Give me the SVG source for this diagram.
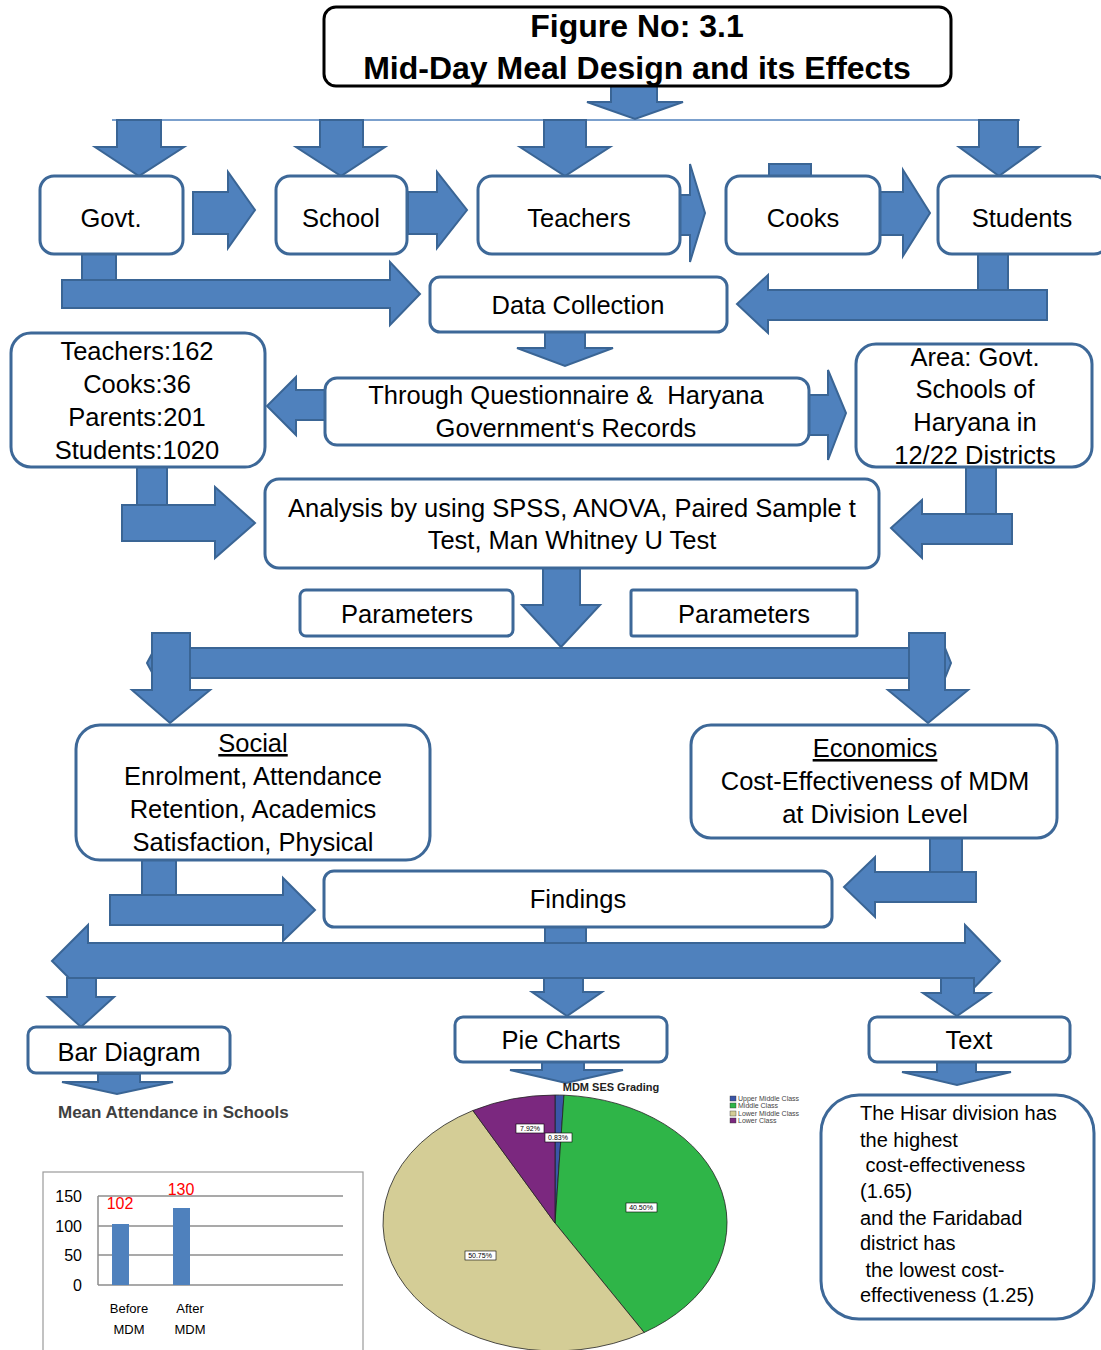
<svg xmlns="http://www.w3.org/2000/svg" width="1101" height="1350" viewBox="0 0 1101 1350">
<style>
.box{fill:#fff;stroke:#3d6898;stroke-width:3}
.arr{fill:#4f81bd;stroke:#3a6595;stroke-width:2;stroke-linejoin:miter}
.t{font-family:"Liberation Sans",Arial,sans-serif;font-size:25.5px;fill:#000;text-anchor:middle}
.tl{font-family:"Liberation Sans",Arial,sans-serif;font-size:20px;fill:#000}
.title{font-family:"Liberation Sans",Arial,sans-serif;font-size:32px;font-weight:bold;fill:#000;text-anchor:middle}
.ax{font-family:"Liberation Sans",Arial,sans-serif;font-size:16px;fill:#000;text-anchor:end}
.xl{font-family:"Liberation Sans",Arial,sans-serif;font-size:13px;fill:#000;text-anchor:middle}
.red{font-family:"Liberation Sans",Arial,sans-serif;font-size:16px;fill:#ff0000;text-anchor:middle}
.pl{font-family:"Liberation Sans",Arial,sans-serif;font-size:7px;fill:#000;text-anchor:middle}
.lg{font-family:"Liberation Sans",Arial,sans-serif;font-size:7px;fill:#444}
.lbl{fill:#fff;stroke:#000;stroke-width:0.6}
.grid{stroke:#8c8c8c;stroke-width:1.5}
</style>

<g id="connectors">
  <line x1="112" y1="120" x2="1020" y2="120" stroke="#4f81bd" stroke-width="1.5"/>
  <!-- title down arrow -->
  <polygon class="arr" points="611,86 657,86 657,102 683,102 635,119 587,102 611,102"/>
  <!-- down arrows to row 1 -->
  <polygon class="arr" points="117,120 161,120 161,147 184,147 139,176 95,147 117,147"/>
  <polygon class="arr" points="320,120 363,120 363,147 385,147 341,176 296,147 320,147"/>
  <polygon class="arr" points="544,120 586,120 586,147 610,147 565,176 520,147 544,147"/>
  <polygon class="arr" points="979,120 1018,120 1018,147 1039,147 999,176 959,147 979,147"/>
  <!-- right arrows between row 1 boxes -->
  <polygon class="arr" points="193,192 228,192 228,172 255,210 228,248 228,234 193,234"/>
  <polygon class="arr" points="408,192 437,192 437,172 467,210 437,248 437,234 408,234"/>
  <polygon class="arr" points="680,195 690,195 690,164 705,213 690,262 690,235 680,235"/>
  <polygon class="arr" points="880,192 903,192 903,170 930,213 903,256 903,235 880,235"/>
  <rect class="arr" x="769" y="164" width="42" height="12"/>
  <!-- Govt to Data Collection -->
  <rect class="arr" x="82" y="254" width="34" height="28"/>
  <polygon class="arr" points="62,280 390,280 390,262 420,294 390,325 390,308 62,308"/>
  <!-- Students to Data Collection -->
  <rect class="arr" x="978" y="254" width="30" height="37"/>
  <polygon class="arr" points="1047,290 768,290 768,275 737,304 768,333 768,320 1047,320"/>
  <!-- Data Collection down -->
  <polygon class="arr" points="545,332 585,332 585,348 613,348 565,366 517,348 545,348"/>
  <!-- Questionnaire left / right -->
  <polygon class="arr" points="325,390 296,390 296,377 267,406 296,435 296,420 325,420"/>
  <polygon class="arr" points="808,395 828,395 828,370 846,413 828,460 828,435 808,435"/>
  <!-- Left box to Analysis -->
  <rect class="arr" x="137" y="467" width="30" height="40"/>
  <polygon class="arr" points="122,505 215,505 215,487 255,523 215,558 215,541 122,541"/>
  <!-- Right box to Analysis -->
  <rect class="arr" x="966" y="467" width="30" height="48"/>
  <polygon class="arr" points="1012,514 922,514 922,500 891,528 922,558 922,544 1012,544"/>
  <!-- Analysis down -->
  <polygon class="arr" points="543,568 580,568 580,605 600,605 561,647 522,605 543,605"/>
  <!-- horizontal distribution bar -->
  <polygon class="arr" points="147,663 155,648 945,648 951,663 945,678 155,678"/>
  <polygon class="arr" points="152,633 190,633 190,690 210,690 170,723 132,690 152,690"/>
  <polygon class="arr" points="909,633 945,633 945,690 968,690 928,723 888,690 909,690"/>
  <!-- Social to Findings -->
  <rect class="arr" x="142" y="860" width="34" height="37"/>
  <polygon class="arr" points="110,895 283,895 283,878 315,910 283,941 283,925 110,925"/>
  <!-- Economics to Findings -->
  <rect class="arr" x="930" y="838" width="32" height="36"/>
  <polygon class="arr" points="976,872 875,872 875,857 844,887 875,917 875,902 976,902"/>
  <!-- Findings connector -->
  <rect class="arr" x="545" y="927" width="41" height="18"/>
  <!-- double arrow -->
  <polygon class="arr" points="52,961 88,925 88,943 965,943 965,925 1000,961 965,997 965,978 88,978 88,997"/>
  <!-- down arrows to bottom boxes -->
  <polygon class="arr" points="67,978 96,978 96,997 114,997 81,1027 48,997 67,997"/>
  <polygon class="arr" points="544,978 583,978 583,992 602,992 567,1016 532,992 544,992"/>
  <polygon class="arr" points="941,978 974,978 974,993 990,993 957,1016 923,993 941,993"/>
  <!-- arrows below bottom boxes -->
  <polygon class="arr" points="98,1074 140,1074 140,1082 173,1082 117,1094 62,1082 98,1082"/>
  <polygon class="arr" points="542,1062 584,1062 584,1070 623,1070 566,1083 510,1070 542,1070"/>
  <polygon class="arr" points="937,1062 976,1062 976,1072 1011,1072 957,1085 902,1072 937,1072"/>
</g>

<g id="title">
  <rect x="324" y="7" width="627" height="79" rx="12" fill="#fff" stroke="#000" stroke-width="3"/>
  <text class="title" x="637" y="37">Figure No: 3.1</text>
  <text class="title" x="637" y="79">Mid-Day Meal Design and its Effects</text>
</g>

<g id="govt"><rect class="box" x="40" y="176" width="143" height="78" rx="14"/><text class="t" x="111" y="227">Govt.</text></g>
<g id="school"><rect class="box" x="276" y="176" width="131" height="78" rx="14"/><text class="t" x="341" y="227">School</text></g>
<g id="teachers"><rect class="box" x="478" y="176" width="202" height="78" rx="14"/><text class="t" x="579" y="227">Teachers</text></g>
<g id="cooks"><rect class="box" x="726" y="176" width="154" height="78" rx="14"/><text class="t" x="803" y="227">Cooks</text></g>
<g id="students"><rect class="box" x="938" y="176" width="170" height="78" rx="14"/><text class="t" x="1022" y="227">Students</text></g>

<g id="data-collection"><rect class="box" x="430" y="277" width="297" height="55" rx="10"/><text class="t" x="578" y="314">Data Collection</text></g>

<g id="sample"><rect class="box" x="11" y="333" width="254" height="134" rx="20"/>
  <text class="t" x="137" y="360">Teachers:162</text>
  <text class="t" x="137" y="393">Cooks:36</text>
  <text class="t" x="137" y="426">Parents:201</text>
  <text class="t" x="137" y="459">Students:1020</text>
</g>
<g id="questionnaire"><rect class="box" x="325" y="378" width="484" height="67" rx="12"/>
  <text class="t" x="566" y="404" xml:space="preserve">Through Questionnaire &amp;  Haryana</text>
  <text class="t" x="566" y="437">Government‘s Records</text>
</g>
<g id="area"><rect class="box" x="856" y="344" width="236" height="123" rx="20"/>
  <text class="t" x="975" y="366">Area: Govt.</text>
  <text class="t" x="975" y="398">Schools of</text>
  <text class="t" x="975" y="431">Haryana in</text>
  <text class="t" x="975" y="464">12/22 Districts</text>
</g>

<g id="analysis"><rect class="box" x="265" y="479" width="614" height="89" rx="14"/>
  <text class="t" x="572" y="517">Analysis by using SPSS, ANOVA, Paired Sample t</text>
  <text class="t" x="572" y="549">Test, Man Whitney U Test</text>
</g>

<g id="parameters-1"><rect class="box" x="300" y="590" width="213" height="46" rx="6"/><text class="t" x="407" y="623">Parameters</text></g>
<g id="parameters-2"><rect class="box" x="631" y="590" width="226" height="46" rx="2"/><text class="t" x="744" y="623">Parameters</text></g>

<g id="social"><rect class="box" x="76" y="725" width="354" height="135" rx="24"/>
  <text class="t" x="253" y="752" text-decoration="underline">Social</text>
  <text class="t" x="253" y="785">Enrolment, Attendance</text>
  <text class="t" x="253" y="818">Retention, Academics</text>
  <text class="t" x="253" y="851">Satisfaction, Physical</text>
</g>
<g id="economics"><rect class="box" x="691" y="725" width="366" height="113" rx="20"/>
  <text class="t" x="875" y="757" text-decoration="underline">Economics</text>
  <text class="t" x="875" y="790">Cost-Effectiveness of MDM</text>
  <text class="t" x="875" y="823">at Division Level</text>
</g>

<g id="findings"><rect class="box" x="324" y="871" width="508" height="56" rx="10"/><text class="t" x="578" y="908">Findings</text></g>

<g id="bar-diagram"><rect class="box" x="28" y="1027" width="202" height="46" rx="8"/><text class="t" x="129" y="1061">Bar Diagram</text></g>
<g id="pie-charts"><rect class="box" x="455" y="1017" width="212" height="45" rx="8"/><text class="t" x="561" y="1049">Pie Charts</text></g>
<g id="text-node"><rect class="box" x="869" y="1017" width="201" height="45" rx="8"/><text class="t" x="969" y="1049">Text</text></g>

<g id="bar-chart">
  <text x="58" y="1118" font-family="Liberation Sans, Arial, sans-serif" font-size="17" font-weight="bold" fill="#404040">Mean Attendance in Schools</text>
  <rect x="43" y="1172" width="320" height="190" fill="#fff" stroke="#9a9a9a" stroke-width="1.2"/>
  <line class="grid" x1="98" y1="1196" x2="343" y2="1196"/>
  <line class="grid" x1="98" y1="1226" x2="343" y2="1226"/>
  <line class="grid" x1="98" y1="1255" x2="343" y2="1255"/>
  <line class="grid" x1="98" y1="1285" x2="343" y2="1285"/>
  <line class="grid" x1="98" y1="1196" x2="98" y2="1285"/>
  <rect x="112" y="1224" width="17" height="61" fill="#4f81bd"/>
  <rect x="173" y="1208" width="17" height="77" fill="#4f81bd"/>
  <text class="ax" x="82" y="1202">150</text>
  <text class="ax" x="82" y="1232">100</text>
  <text class="ax" x="82" y="1261">50</text>
  <text class="ax" x="82" y="1291">0</text>
  <text class="red" x="120" y="1209">102</text>
  <text class="red" x="181" y="1195">130</text>
  <text class="xl" x="129" y="1313">Before</text>
  <text class="xl" x="129" y="1334">MDM</text>
  <text class="xl" x="190" y="1313">After</text>
  <text class="xl" x="190" y="1334">MDM</text>
</g>

<g id="pie-chart">
  <text x="611" y="1091" font-family="Liberation Sans, Arial, sans-serif" font-size="11" font-weight="bold" fill="#222" text-anchor="middle">MDM SES Grading</text>
  <path d="M555,1223 L555,1095 A172,128 0 0 1 563.97,1095.17 Z" fill="#3b55a8" stroke="#222" stroke-width="0.8"/>
  <path d="M555,1223 L563.97,1095.17 A172,128 0 0 1 644.13,1332.48 Z" fill="#2fb548" stroke="#222" stroke-width="0.8"/>
  <path d="M555,1223 L644.13,1332.48 A172,128 0 1 1 472.9,1110.53 Z" fill="#d4cd96" stroke="#222" stroke-width="0.8"/>
  <path d="M555,1223 L472.9,1110.53 A172,128 0 0 1 555,1095 Z" fill="#7b287f" stroke="#222" stroke-width="0.8"/>
  <rect class="lbl" x="516" y="1124" width="28" height="9"/><text class="pl" x="530" y="1131">7.92%</text>
  <rect class="lbl" x="545" y="1133" width="27" height="9"/><text class="pl" x="558" y="1140">0.83%</text>
  <rect class="lbl" x="626" y="1203" width="31" height="9"/><text class="pl" x="641" y="1210">40.50%</text>
  <rect class="lbl" x="465" y="1251" width="31" height="9"/><text class="pl" x="480" y="1258">50.75%</text>
  <rect x="730" y="1096" width="6" height="5" fill="#3b55a8" stroke="#333" stroke-width="0.4"/>
  <rect x="730" y="1103" width="6" height="5" fill="#2fb548" stroke="#333" stroke-width="0.4"/>
  <rect x="730" y="1111" width="6" height="5" fill="#d4cd96" stroke="#333" stroke-width="0.4"/>
  <rect x="730" y="1118" width="6" height="5" fill="#7b287f" stroke="#333" stroke-width="0.4"/>
  <text class="lg" x="738" y="1101">Upper Middle Class</text>
  <text class="lg" x="738" y="1108">Middle Class</text>
  <text class="lg" x="738" y="1116">Lower Middle Class</text>
  <text class="lg" x="738" y="1123">Lower Class</text>
</g>

<g id="result-text"><rect class="box" x="821" y="1095" width="273" height="224" rx="38"/>
  <text class="tl" x="860" y="1120">The Hisar division has</text>
  <text class="tl" x="860" y="1147">the highest</text>
  <text class="tl" x="860" y="1172" xml:space="preserve"> cost-effectiveness</text>
  <text class="tl" x="860" y="1198">(1.65)</text>
  <text class="tl" x="860" y="1225">and the Faridabad</text>
  <text class="tl" x="860" y="1250">district has</text>
  <text class="tl" x="860" y="1277" xml:space="preserve"> the lowest cost-</text>
  <text class="tl" x="860" y="1302">effectiveness (1.25)</text>
</g>
</svg>
